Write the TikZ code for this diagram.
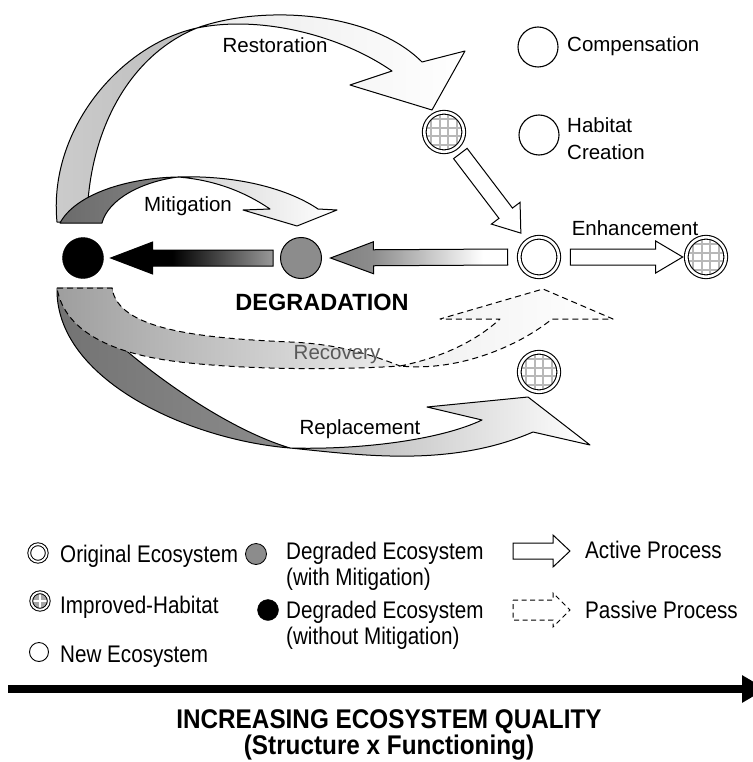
\documentclass[tikz,border=0pt]{standalone}
\usepackage{fontspec}
\setmainfont{Liberation Sans}
\newfontfamily\narrowfam[FakeStretch=0.86]{Liberation Sans}
\newfontfamily\titlefam[FakeStretch=0.9]{Liberation Sans}
\usetikzlibrary{calc,arrows.meta}
\pgfdeclarehorizontalshading{blkfade}{100bp}{color(0bp)=(black); color(25bp)=(black); color(44bp)=(black); color(75bp)=(black!40); color(100bp)=(black!40)}
\pgfdeclarehorizontalshading{gryfade}{100bp}{color(0bp)=(black!50); color(25bp)=(black!50); color(37bp)=(black!45); color(68bp)=(white); color(100bp)=(white)}
% #1 options, #2 from, #3 to, #4 body half width, #5 head half width, #6 head length
\newcommand{\blockarrow}[6][]{%
  \coordinate (ba-h) at ($(#3)!#6!(#2)$);
  \path[#1] ($(#2)!#4!90:(#3)$) -- ($(ba-h)!#4!90:(#3)$) -- ($(ba-h)!#5!90:(#3)$) -- (#3)
    -- ($(ba-h)!#5!-90:(#3)$) -- ($(ba-h)!#4!-90:(#3)$) -- ($(#2)!#4!-90:(#3)$) -- cycle;
}
\tikzset{
  lbl/.style={font=\fontsize{20.5}{24}\selectfont, inner sep=0pt, anchor=base},
  leg/.style={font=\narrowfam\fontsize{24}{26}\selectfont, inner sep=0pt, anchor=base west},
  ttl/.style={font=\titlefam\bfseries\fontsize{27}{28}\selectfont, inner sep=0pt, anchor=base},
  ecoorig/.style={circle, draw, line width=1.1pt, double=white, double distance=2.6pt, fill=white, minimum size=39.5pt, inner sep=0pt},
  ecoimpr/.style={ecoorig, path picture={
      \foreach \d in {-12.75,-4.25,4.25,12.75}{
        \draw[black!28, line width=2pt] ($(path picture bounding box.center)+(\d pt,-22pt)$) -- ++(0pt,44pt);
        \draw[black!28, line width=2pt] ($(path picture bounding box.center)+(-22pt,\d pt)$) -- ++(44pt,0pt);
      }}},
  econew/.style={circle, draw, line width=1.1pt, fill=white, minimum size=40pt, inner sep=0pt},
  ecodm/.style={circle, draw, line width=1pt, fill=black!45, minimum size=41pt, inner sep=0pt},
  ecodw/.style={circle, draw, fill=black, minimum size=41pt, inner sep=0pt},
  legorig/.style={circle, draw, line width=1pt, double=white, double distance=1.8pt, fill=white, minimum size=17.5pt, inner sep=0pt},
  legimpr/.style={legorig, fill=black!35, path picture={
      \draw[white, line width=1.2pt] ($(path picture bounding box.center)+(-8pt,0pt)$) -- ++(16pt,0pt)
        ($(path picture bounding box.center)+(0pt,-8pt)$) -- ++(0pt,16pt);}},
  legnew/.style={circle, draw, line width=0.9pt, minimum size=19pt, inner sep=0pt},
  legdm/.style={circle, draw, line width=0.8pt, fill=black!45, minimum size=21pt, inner sep=0pt},
  legdw/.style={circle, draw, fill=black, minimum size=21pt, inner sep=0pt},
  ribbon/.style={draw, line width=1pt, line join=round},
  actarr/.style={draw, line width=1pt, fill=white, line join=miter},
  pasarr/.style={draw, line width=1pt, dash pattern=on 5pt off 3.5pt},
}
\begin{document}
\begin{tikzpicture}[x=1pt,y=-1pt]
\fill[white] (0,0) rectangle (752,762);
\useasboundingbox (0,0) rectangle (752,762);

% ---------- ribbons ----------
% Restoration
\path[ribbon, left color=black!20, right color=black!26]
  (57,222) .. controls (48,130) and (120,45) .. (197,28)
  .. controls (130,55) and (88,130) .. (87,222) -- cycle;
\path[ribbon, left color=black!8, right color=white]
  (197,28) .. controls (260,5) and (370,10) .. (422,62) -- (465,51) -- (432,110) -- (350,85) -- (392,71)
  .. controls (340,35) and (260,15) .. (197,28) -- cycle;
% Mitigation
\path[ribbon, left color=black!58, right color=black!48]
  (60,223) .. controls (75,195) and (125,178) .. (178,177)
  .. controls (140,182) and (108,200) .. (102,223) -- cycle;
\path[ribbon, left color=black!18, right color=white]
  (178,177) .. controls (240,175) and (290,190) .. (318,209) -- (337,210) -- (297,226) -- (243,210) -- (270,209)
  .. controls (245,192) and (215,180) .. (178,177) -- cycle;
% Replacement
\path[ribbon, left color=black!55, right color=black!45]
  (57,288) .. controls (55,380) and (190,440) .. (290,448)
  .. controls (230,430) and (160,380) .. (122,347)
  .. controls (115,330) and (112,310) .. (112,288) -- cycle;
\path[ribbon, left color=black!32, right color=white]
  (290,448) .. controls (360,455) and (450,468) .. (533,432) -- (590,445) -- (528,397) -- (427,407) -- (482,420)
  .. controls (440,440) and (360,450) .. (290,448) -- cycle;
% Recovery (passive)
\path[ribbon, dash pattern=on 6pt off 4pt, left color=black!38, right color=black!7]
  (57,288) -- (112,288) .. controls (118,330) and (200,338) .. (290,342)
  .. controls (340,344) and (375,356) .. (400,366)
  .. controls (340,370) and (250,370) .. (180,362)
  .. controls (120,355) and (65,335) .. (57,288) -- cycle;
\path[ribbon, dash pattern=on 6pt off 4pt, left color=black!6, right color=white]
  (400,366) .. controls (440,358) and (475,342) .. (500,319) -- (440,319) -- (543,289) -- (613,319) -- (552,319)
  .. controls (520,345) and (460,372) .. (400,366) -- cycle;

% ---------- ecosystem states ----------
\node[ecodw] (blk) at (83,258) {};
\node[ecodm] (gry) at (301,258) {};
\node[ecoorig] (org) at (539,257) {};
\node[ecoimpr] (enh) at (706,257) {};
\node[ecoimpr] (res) at (444,132) {};
\node[ecoimpr] (rep) at (539,372) {};
\node[econew] (cmp) at (538,47) {};
\node[econew] (hab) at (539,135) {};

% ---------- straight arrows ----------
\coordinate (a1s) at ($(gry.west)+(-7,0)$);
\coordinate (a1e) at ($(blk.east)+(7,0)$);
\blockarrow[shade, shading=blkfade, draw, line width=1pt]{a1s}{a1e}{8pt}{16pt}{42pt}
\coordinate (a2s) at ($(org.west)+(-11,0)$);
\coordinate (a2e) at ($(gry.east)+(8.5,0)$);
\blockarrow[shade, shading=gryfade, draw, line width=1pt]{a2s}{a2e}{8pt}{16pt}{43pt}
\coordinate (a3s) at ($(org.east)+(11,0)$);
\coordinate (a3e) at ($(enh.west)+(-3,0)$);
\blockarrow[actarr]{a3s}{a3e}{8pt}{16pt}{27pt}
\coordinate (a4s) at ($(res.center)!27pt!(org.center)$);
\coordinate (a4e) at ($(org.center)!30pt!(res.center)$);
\blockarrow[actarr]{a4s}{a4e}{8.5pt}{18pt}{25pt}

% ---------- labels ----------
\node[lbl] (tRes) at (275,53) {Restoration};
\node[lbl] (tMit) at (188,211) {Mitigation};
\node[lbl, anchor=base west] (tComp) at (567,52) {Compensation};
\node[lbl, anchor=base west] (tHab) at (567,133) {Habitat};
\node[lbl, anchor=base west] (tCre) at (567,160) {Creation};
\node[lbl] (tEnh) at (635,235) {Enhancement};
\node[lbl, font=\bfseries\fontsize{23.5}{26}\selectfont] (tDeg) at (322,310) {DEGRADATION};
\node[lbl, text=black!65] (tRec) at (337,359) {Recovery};
\node[lbl] (tRep) at (360,434) {Replacement};

% ---------- legend ----------
\node[legorig] (lOrig) at (38,553) {};
\node[leg] (tOrig) at (60,562) {Original Ecosystem};
\node[legimpr] (lImp) at (40,601) {};
\node[leg] (tImp) at (60,613) {Improved-Habitat};
\node[legnew] (lNew) at (39,652) {};
\node[leg] (tNew) at (60,662) {New Ecosystem};
\node[legdm] (lDm) at (256,554) {};
\node[leg] (tDm1) at (286,559) {Degraded Ecosystem};
\node[leg] (tDm2) at (286,585) {(with Mitigation)};
\node[legdw] (lDw) at (268,610) {};
\node[leg] (tDw1) at (286,618) {Degraded Ecosystem};
\node[leg] (tDw2) at (286,644) {(without Mitigation)};
\coordinate (la1s) at (513,551);
\coordinate (la1e) at (570,551);
\blockarrow[actarr]{la1s}{la1e}{8pt}{16pt}{17pt}
\node[leg] (tAct) at (585,558) {Active Process};
\coordinate (la2s) at (513,610);
\coordinate (la2e) at (570,610);
\blockarrow[pasarr]{la2s}{la2e}{10pt}{17pt}{17pt}
\node[leg] (tPas) at (585,618) {Passive Process};

% ---------- axis ----------
\coordinate (ax0) at (8,689);
\coordinate (ax1) at (766,689);
\draw[line width=8pt, -{Triangle[length=24pt,width=26pt]}] (ax0) -- (ax1);
\node[ttl] (tT1) at (389,728) {INCREASING ECOSYSTEM QUALITY};
\node[ttl] (tT2) at (389,754) {(Structure x Functioning)};
\end{tikzpicture}
\end{document}
